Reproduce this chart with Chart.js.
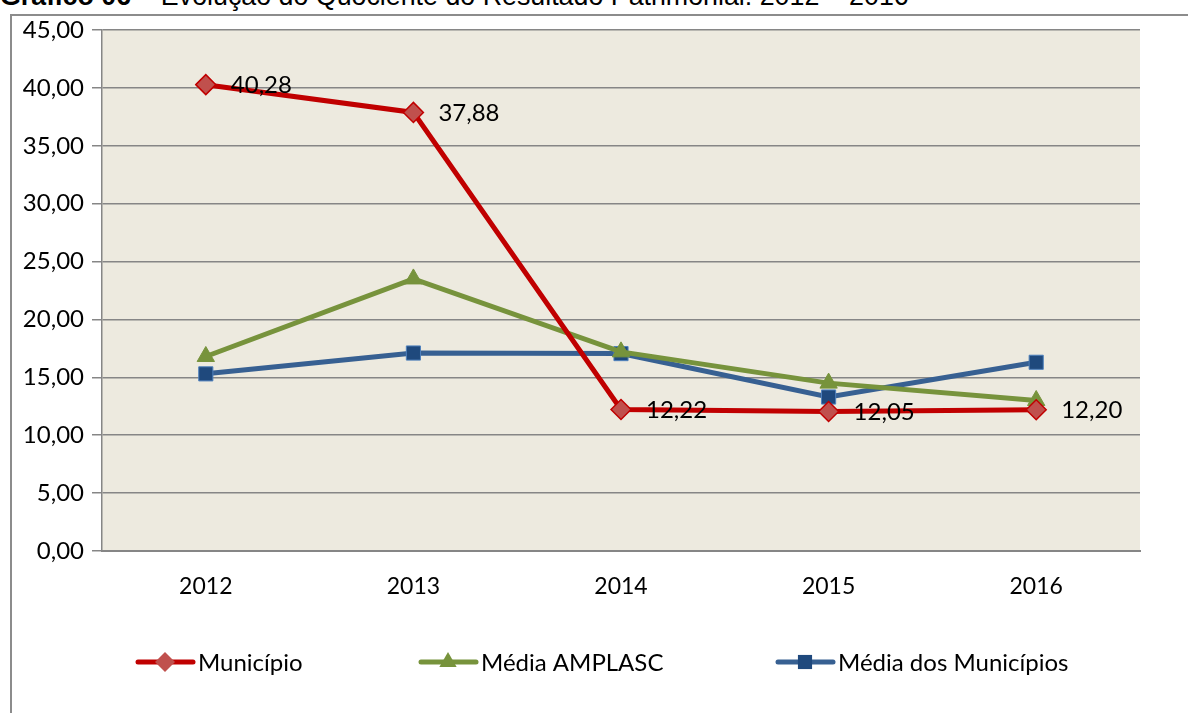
<!DOCTYPE html>
<html>
<head>
<meta charset="utf-8">
<script src="https://cdn.jsdelivr.net/npm/chart.js@4"></script>
<style>
  body { margin: 0; background: #fff; overflow: hidden; }
  #wrap { position: relative; width: 1188px; height: 713px; overflow: hidden; }
  #titulo { position: absolute; left: 0; top: -19px; font-family: "Liberation Sans", Arial, sans-serif; font-size: 26.8px; line-height: 31px; white-space: nowrap; color: #000; }
  #moldura { position: absolute; left: 10px; top: 14px; width: 1200px; height: 720px; border-left: 2px solid #8c8c8c; border-top: 2px solid #8c8c8c; box-sizing: border-box; }
  canvas { position: absolute; left: 0; top: 0; }
</style>
</head>
<body>
<div id="wrap">
  <div id="titulo"><b>Gráfico 06</b> – Evolução do Quociente do Resultado Patrimonial: 2012 – 2016</div>
  <div id="moldura"></div>
  <canvas id="myChart" width="1188" height="713"></canvas>
</div>
<script>
const anos = ['2012', '2013', '2014', '2015', '2016'];
const municipio = [40.28, 37.88, 12.22, 12.05, 12.20];
const mediaAmplasc = [16.8, 23.5, 17.2, 14.5, 13.0];
const mediaMunicipios = [15.3, 17.1, 17.05, 13.3, 16.3];

const fonte = 'Lato, "Open Sans", sans-serif';
const virgula = (v) => v.toFixed(2).replace('.', ',');

// fundo da area do grafico
const fundo = {
  id: 'fundo',
  beforeDraw(chart) {
    const a = chart.chartArea, c = chart.ctx;
    c.save();
    c.fillStyle = '#EDEADF';
    c.fillRect(a.left, a.top, a.right - a.left, a.bottom - a.top);
    c.restore();
  }
};

// rotulos dos valores do municipio
const rotulos = {
  id: 'rotulos',
  afterDatasetsDraw(chart) {
    const c = chart.ctx;
    const meta = chart.getDatasetMeta(0);
    c.save();
    c.font = '24px ' + fonte;
    c.fillStyle = '#000';
    c.textBaseline = 'middle';
    c.textAlign = 'left';
    meta.data.forEach((p, i) => {
      c.fillText(virgula(municipio[i]), p.x + 25, p.y + 1);
    });
    c.restore();
  }
};

// legenda com linha + marcador
const legenda = {
  id: 'legenda',
  afterDraw(chart) {
    const c = chart.ctx;
    const y = 662;
    const itens = [
      { x: 138, ds: chart.data.datasets[0] },
      { x: 421, ds: chart.data.datasets[1] },
      { x: 778, ds: chart.data.datasets[2] }
    ];
    c.save();
    itens.forEach((it) => {
      const ds = it.ds;
      c.strokeStyle = ds.borderColor;
      c.lineWidth = 5;
      c.lineCap = 'round';
      c.beginPath();
      c.moveTo(it.x, y);
      c.lineTo(it.x + 55, y);
      c.stroke();
      c.fillStyle = ds.pointBackgroundColor;
      c.strokeStyle = ds.pointBorderColor;
      c.lineWidth = ds.pointBorderWidth;
      c.beginPath();
      Chart.helpers.drawPoint(c, { pointStyle: ds.pointStyle, radius: ds.pointRadius, rotation: 0 }, it.x + 27, y);
      c.fillStyle = '#000';
      c.font = '24px ' + fonte;
      c.textBaseline = 'middle';
      c.fillText(ds.label, it.x + 60, y + 1);
    });
    c.restore();
  }
};

const ctx = document.getElementById('myChart').getContext('2d');
const myChart = new Chart(ctx, {
  type: 'line',
  data: {
    labels: anos,
    datasets: [
      {
        label: 'Município',
        data: municipio,
        borderColor: '#C00000',
        borderWidth: 5,
        pointStyle: 'rectRot',
        pointRadius: 10,
        pointBackgroundColor: '#C0504D',
        pointBorderColor: '#C00000',
        pointBorderWidth: 1.5,
        tension: 0
      },
      {
        label: 'Média AMPLASC',
        data: mediaAmplasc,
        borderColor: '#77933C',
        borderWidth: 5,
        pointStyle: 'triangle',
        pointRadius: 10,
        pointBackgroundColor: '#77933C',
        pointBorderColor: '#77933C',
        pointBorderWidth: 1,
        tension: 0
      },
      {
        label: 'Média dos Municípios',
        data: mediaMunicipios,
        borderColor: '#376092',
        borderWidth: 5,
        pointStyle: 'rect',
        pointRadius: 10,
        pointBackgroundColor: '#1F497D',
        pointBorderColor: '#4F81BD',
        pointBorderWidth: 1,
        tension: 0
      }
    ]
  },
  options: {
    responsive: false,
    animation: false,
    layout: { padding: { left: 14, right: 48, top: 30, bottom: 100 } },
    plugins: {
      legend: { display: false },
      tooltip: { enabled: false }
    },
    scales: {
      x: {
        offset: true,
        afterFit: (s) => { s.height = 62; },
        grid: { display: false, drawTicks: false },
        border: { display: true, color: '#868686', width: 2 },
        ticks: { color: '#000', font: { family: fonte, size: 23 }, padding: 22 }
      },
      y: {
        min: 0,
        max: 45,
        afterFit: (s) => { s.width = 88; },
        grid: { color: '#868686', lineWidth: 1.5, tickLength: 10, drawTicks: true },
        border: { display: true, color: '#868686', width: 1.5 },
        ticks: {
          stepSize: 5,
          color: '#000',
          padding: 8,
          font: { family: fonte, size: 24 },
          callback: (v) => virgula(v)
        }
      }
    }
  },
  plugins: [fundo, rotulos, legenda]
});
</script>
</body>
</html>
